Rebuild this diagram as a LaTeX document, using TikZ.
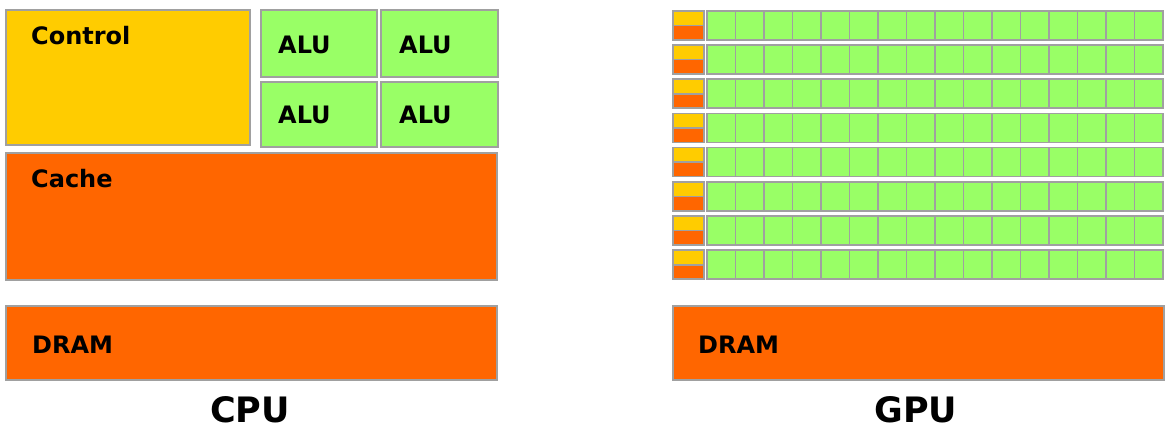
\documentclass[tikz,border=0pt]{standalone}
\usepackage{fontspec}
\setmainfont{DejaVu Sans}
\usetikzlibrary{positioning}

\definecolor{ctrlyellow}{HTML}{FFCC00}
\definecolor{cacheorange}{HTML}{FF6600}
\definecolor{alugreen}{HTML}{99FF66}
\definecolor{edgegrey}{HTML}{A0A0A0}

\tikzset{
  unit/.style={draw=edgegrey, line width=1.6pt, inner sep=0pt, anchor=north west},
  lbl/.style={font=\fontsize{24}{28}\selectfont\bfseries, inner sep=0pt, anchor=base west},
  chiptitle/.style={font=\fontsize{35}{40}\selectfont\bfseries, inner sep=0pt, anchor=base},
}

\begin{document}
\begin{tikzpicture}[x=1pt, y=-1pt]

    \useasboundingbox (0,0) rectangle (1168,439);

    % CPU
    \node[unit, fill=ctrlyellow, minimum width=244, minimum height=135] (control) at (5,9) {};
    \node[unit, fill=alugreen, minimum width=116, minimum height=67] (alu1) at (260,9) {};
    \node[unit, fill=alugreen, minimum width=117, minimum height=67] (alu2) at (380,9) {};
    \node[unit, fill=alugreen, minimum width=116, minimum height=65] (alu3) at (260,81) {};
    \node[unit, fill=alugreen, minimum width=117, minimum height=65] (alu4) at (380,81) {};
    \node[unit, fill=cacheorange, minimum width=491, minimum height=127] (cache) at (5,152) {};
    \node[unit, fill=cacheorange, minimum width=491, minimum height=74] (cpudram) at (5,305) {};

    \node[lbl] (controltext) at (31,44) {Control};
    \node[lbl] (alutext1) at (278,53) {ALU};
    \node[lbl] (alutext2) at (399,53) {ALU};
    \node[lbl] (alutext3) at (278,123) {ALU};
    \node[lbl] (alutext4) at (399,123) {ALU};
    \node[lbl] (cachetext) at (31,187) {Cache};
    \node[lbl] (cpudramtext) at (32,353) {DRAM};
    \node[chiptitle] (cputitle) at (250,422) {CPU};

    % GPU
    \foreach \r in {0,...,7} {
        \pgfmathsetmacro\rowy{10+34.2*\r}
        \node[unit, fill=ctrlyellow, minimum width=31, minimum height=14.5] (gctl\r) at (672,\rowy) {};
        \node[unit, fill=cacheorange, minimum width=31, minimum height=14.5] (gcache\r) at (672,\rowy+14.5) {};
        \foreach \c in {0,...,15}
            \node[unit, fill=alugreen, minimum width=28.5, minimum height=29] (galu\r-\c) at (706+28.5*\c,\rowy) {};
    }
    \node[unit, fill=cacheorange, minimum width=491, minimum height=74] (gpudram) at (672,305) {};

    \node[lbl] (gpudramtext) at (698,353) {DRAM};
    \node[chiptitle] (gputitle) at (916,422) {GPU};

\end{tikzpicture}
\end{document}
